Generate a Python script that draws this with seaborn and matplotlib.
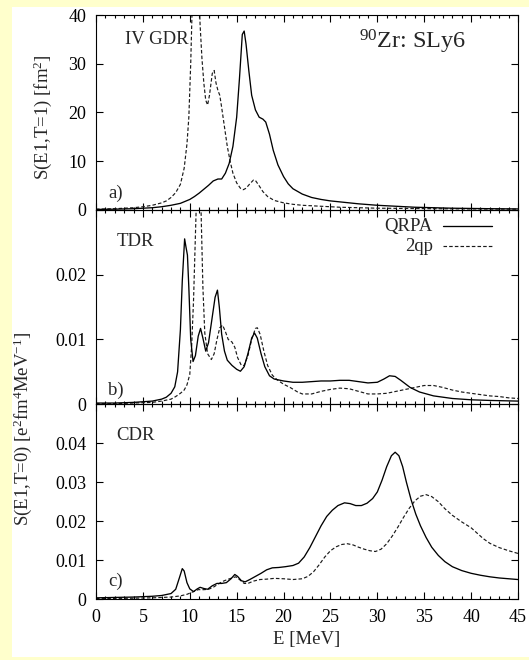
import numpy as np
import pandas as pd
import matplotlib
matplotlib.use("Agg")
import matplotlib.pyplot as plt
from matplotlib.patches import Rectangle
from matplotlib.lines import Line2D
import seaborn as sns

# ---------------- data ----------------
# Panel a) IV GDR, S(E1,T=1) [fm^2]
E_a_qrpa = [0, 2, 4, 6, 7, 8, 9, 10, 10.5, 11, 11.5, 12, 12.5, 13, 13.4, 13.8, 14.2, 14.6, 15.0, 15.3,
            15.6, 15.8, 16.0, 16.3, 16.6, 17.0, 17.4, 17.8, 18.1, 18.5, 18.9, 19.4, 20, 20.5, 21, 22, 23,
            24, 25, 26, 27, 28, 29, 30, 32, 34, 36, 38, 40, 42, 45]
S_a_qrpa = [0.05, 0.1, 0.2, 0.4, 0.6, 0.9, 1.3, 2.1, 2.7, 3.4, 4.2, 5.0, 5.9, 6.3, 6.3, 7.5, 9.5, 13, 19, 27,
            36, 36.7, 34, 28.5, 23.5, 20.5, 19, 18.6, 18, 15.5, 12.2, 9.2, 6.8, 5.3, 4.3, 3.2, 2.5,
            2.1, 1.8, 1.6, 1.4, 1.2, 1.05, 0.9, 0.7, 0.5, 0.4, 0.3, 0.25, 0.2, 0.15]
E_a_2qp = [0, 2, 4, 5, 6, 7, 7.5, 8, 8.5, 9, 9.4, 9.7, 9.9, 10.1, 10.3, 10.6, 10.9, 11.1, 11.3, 11.5,
           11.7, 11.9, 12.1, 12.4, 12.6, 12.8, 13.0, 13.2, 13.4, 13.7, 14.0, 14.3, 14.6, 15.0, 15.4,
           15.7, 16.0, 16.4, 16.8, 17.0, 17.4, 17.8, 18.3, 19, 20, 21, 22, 24, 26, 28, 30, 33, 36, 40, 45]
S_a_2qp = [0.1, 0.2, 0.4, 0.6, 0.9, 1.4, 1.8, 2.5, 3.5, 5.2, 8.5, 13.5, 19, 30, 45, 60, 50, 38, 31, 26,
           22.5, 21.5, 23.5, 28, 28.6, 26, 24.5, 23.5, 21, 17, 13, 10, 7.5, 5.5, 4.4,
           4.1, 4.4, 5.3, 6.1, 6.0, 4.9, 3.7, 2.7, 1.9, 1.4, 1.1, 0.9, 0.7, 0.5, 0.4, 0.3, 0.25, 0.2, 0.15, 0.1]

# Panel b) TDR, S(E1,T=0)
E_b_qrpa = [0, 2, 4, 5, 6, 7, 7.5, 8, 8.4, 8.7, 9.0, 9.2, 9.45, 9.6, 9.75, 9.9, 10.1, 10.35, 10.6, 10.9,
            11.15, 11.4, 11.7, 12.0, 12.4, 12.7, 12.95, 13.15, 13.4, 13.7, 14.0, 14.5, 15.0, 15.4, 15.8,
            16.2, 16.6, 16.9, 17.2, 17.6, 18.0, 18.5, 19, 20, 21, 22, 23, 24, 25, 26, 27, 28, 29, 30,
            30.7, 31.3, 31.9, 32.5, 33.5, 34.5, 36, 38, 40, 42, 45]
S_b_qrpa = [0.0002, 0.0002, 0.0003, 0.0004, 0.0005, 0.0008, 0.0011, 0.0017, 0.0027, 0.005, 0.0115, 0.019,
            0.0255, 0.0242, 0.023, 0.018, 0.010, 0.0066, 0.0075, 0.0105,
            0.0117, 0.0102, 0.0082, 0.0095, 0.0135, 0.0165, 0.0176, 0.015, 0.0108, 0.0082, 0.0068, 0.006,
            0.0054, 0.0051, 0.0058, 0.0078, 0.0102, 0.0110, 0.0102, 0.0078, 0.0058, 0.0044, 0.0039, 0.0036,
            0.0034, 0.0034, 0.0035, 0.0036, 0.0036, 0.0037, 0.0037, 0.0035, 0.0033, 0.0034,
            0.0039, 0.0044, 0.0043, 0.0037, 0.0026, 0.0019, 0.0013, 0.0009, 0.0007, 0.0006, 0.0005]
E_b_2qp = [0, 2, 4, 6, 7, 8, 8.5, 9.0, 9.4, 9.7, 10.0, 10.2, 10.4, 10.6, 10.8, 11.0, 11.2, 11.4, 11.6,
           11.9, 12.3, 12.6, 12.9, 13.2, 13.5, 13.8, 14.1, 14.5, 14.8, 15.1, 15.5, 15.8, 16.2, 16.6, 17.0,
           17.2, 17.5, 17.9, 18.3, 18.8, 19.3, 20, 20.7, 21.5, 22, 23, 24, 25, 26, 27, 28, 29, 30, 31, 32,
           33, 34, 35, 36, 37, 38, 39, 40, 41, 42, 43, 44, 45]
S_b_2qp = [0.0001, 0.0001, 0.0002, 0.0003, 0.0005, 0.0008, 0.0012, 0.0017, 0.0022, 0.003, 0.0046, 0.009,
           0.016, 0.026, 0.036, 0.038, 0.030, 0.018, 0.011,
           0.0078, 0.0069, 0.0078, 0.0100, 0.0118, 0.0122, 0.0112, 0.0100, 0.0096, 0.0088, 0.0072, 0.0060,
           0.0060, 0.0075, 0.0100, 0.0117, 0.0118, 0.0108, 0.0082, 0.0060, 0.0045, 0.0038, 0.0031, 0.0026,
           0.0019, 0.0016, 0.0016, 0.0020, 0.0023, 0.0025, 0.0024, 0.0020, 0.0016, 0.0016, 0.0017, 0.0020,
           0.0023, 0.0026, 0.0029, 0.0029, 0.0026, 0.0022, 0.0019, 0.0017, 0.0015, 0.0013, 0.0012, 0.0010, 0.0009]

# Panel c) CDR, S(E1,T=0)
E_c_qrpa = [0, 2, 4, 6, 7, 8, 8.5, 8.9, 9.2, 9.4, 9.7, 10.0, 10.4, 10.8, 11.1, 11.5, 11.9, 12.4, 12.9,
            13.4, 13.9, 14.4, 14.8, 15.1, 15.5, 15.9, 16.4, 17, 17.6, 18.2, 18.8, 19.5, 20.2, 21, 21.6,
            22.2, 22.8, 23.4, 24, 24.6, 25.2, 25.8, 26.5, 27.1, 27.7, 28.3, 28.9, 29.5, 30.0, 30.5, 31.0,
            31.5, 31.9, 32.3, 32.7, 33.1, 33.6, 34.1, 34.6, 35.2, 35.8, 36.5, 37.2, 38, 39, 40, 41, 42,
            43, 44, 45]
S_c_qrpa = [0.0003, 0.0004, 0.0005, 0.0007, 0.0009, 0.0014, 0.0025, 0.0055, 0.0078, 0.0072, 0.0042,
            0.0026, 0.0019, 0.0026, 0.0030, 0.0027, 0.0025, 0.0034, 0.0040,
            0.0040, 0.0042, 0.0052, 0.0063, 0.0058, 0.0047, 0.0044, 0.0050, 0.0058, 0.0066, 0.0075, 0.0080,
            0.0081, 0.0083, 0.0086, 0.0092, 0.0108, 0.0132, 0.0160, 0.0188, 0.0212, 0.0228, 0.0240, 0.0247,
            0.0245, 0.0240, 0.0240, 0.0246, 0.0258, 0.0275, 0.0305, 0.0340,
            0.0368, 0.0377, 0.0368, 0.0340, 0.0300, 0.0255, 0.0218, 0.0188, 0.0158, 0.0133, 0.0112, 0.0096,
            0.0083, 0.0073, 0.0066, 0.0061, 0.0057, 0.0054, 0.0052, 0.0050]
E_c_2qp = [0, 4, 6, 8, 9, 9.7, 10.3, 10.9, 11.5, 12, 12.5, 13, 13.5, 14, 14.5, 14.9, 15.3, 15.8, 16.2,
           16.8, 17.5, 18.2, 19, 20, 21, 22, 22.6, 23.2, 23.8, 24.4, 25, 25.6, 26.2, 26.8, 27.4, 28, 28.6,
           29.2, 29.8, 30.4, 31, 31.6, 32.2, 32.8, 33.4, 34, 34.6, 35.2, 35.8, 36.5, 37.2, 38, 39, 40,
           40.6, 41.3, 42, 43, 44, 45]
S_c_2qp = [0.0001, 0.0002, 0.0003, 0.0005, 0.0008, 0.0012, 0.0018, 0.0024, 0.0024, 0.0025, 0.0030,
           0.0038, 0.0045, 0.0050, 0.0054, 0.0057, 0.0050, 0.0040, 0.0040,
           0.0046, 0.0050, 0.0051, 0.0053, 0.0052, 0.0050, 0.0052, 0.0058, 0.0070, 0.0088, 0.0108, 0.0124,
           0.0134, 0.0140, 0.0142, 0.0139, 0.0133, 0.0128, 0.0124, 0.0122, 0.0128, 0.0142, 0.0162, 0.0185,
           0.0210, 0.0233, 0.0252, 0.0264, 0.0268, 0.0263, 0.0250, 0.0232, 0.0215, 0.0198, 0.0183,
           0.0170, 0.0155, 0.0143, 0.0132, 0.0124, 0.0117]

series_names = ["QRPA", "2qp"]
x_ticks = [0, 5, 10, 15, 20, 25, 30, 35, 40, 45]
x_ticklabels = ["0", "5", "10", "15", "20", "25", "30", "35", "40", "45"]
a_yticks = [0, 10, 20, 30, 40]
a_yticklabels = ["0", "10", "20", "30", "40"]
b_yticks = [0, 0.01, 0.02]
b_yticklabels = ["0", "0.01", "0.02"]
c_yticks = [0, 0.01, 0.02, 0.03, 0.04]
c_yticklabels = ["0", "0.01", "0.02", "0.03", "0.04"]
ylims = [(0, 40), (0, 0.03), (0, 0.05)]

# ---------------- style ----------------
sns.set_theme(style="ticks")
plt.rcParams["font.family"] = ["Liberation Serif", "DejaVu Serif"]
plt.rcParams["mathtext.fontset"] = "custom"
plt.rcParams["mathtext.rm"] = "Liberation Serif"
plt.rcParams["mathtext.it"] = "Liberation Serif:italic"
plt.rcParams["axes.linewidth"] = 0.8
plt.rcParams["axes.edgecolor"] = "black"

W, H = 529, 660
fig = plt.figure(figsize=(W / 100, H / 100), dpi=100, facecolor="#ffffcc")
fig.patches.append(Rectangle((12 / W, 3 / H), (W - 12) / W, 650 / H, transform=fig.transFigure,
                             facecolor="white", edgecolor="none", zorder=-10))

left, right = 96 / W, 518 / W
top, bottom = 1 - 15 / H, 1 - 599 / H
gs = fig.add_gridspec(3, 1, left=left, right=right, top=top, bottom=bottom, hspace=0)
axes = [fig.add_subplot(gs[i]) for i in range(3)]

solid_kw = dict(color="black", linewidth=0.95, linestyle="-")
dash_kw = dict(color="#1a1a1a", linewidth=0.85, linestyle=(0, (3.0, 1.8)))

panels = [
    (E_a_qrpa, S_a_qrpa, E_a_2qp, S_a_2qp),
    (E_b_qrpa, S_b_qrpa, E_b_2qp, S_b_2qp),
    (E_c_qrpa, S_c_qrpa, E_c_2qp, S_c_2qp),
]
for ax, (e1, s1, e2, s2), yl in zip(axes, panels, ylims):
    df1 = pd.DataFrame({"E": e1, "S": s1})
    df2 = pd.DataFrame({"E": e2, "S": s2})
    sns.lineplot(data=df2, x="E", y="S", ax=ax, estimator=None, sort=False, **dash_kw)
    sns.lineplot(data=df1, x="E", y="S", ax=ax, estimator=None, sort=False, **solid_kw)
    ax.set_xlim(0, 45)
    ax.set_ylim(*yl)
    ax.set_xlabel("")
    ax.set_ylabel("")
    ax.set_xticks(x_ticks)
    ax.set_xticks(np.arange(0, 46, 1), minor=True)
    ax.tick_params(which="both", direction="in", top=True, right=True, colors="black",
                   labelsize=13, width=0.8)
    ax.tick_params(which="major", length=5, pad=7)
    ax.tick_params(which="minor", length=2.5)
    ax.tick_params(axis="y", which="minor", left=False, right=False)
    ax.set_facecolor("none")

axes[0].set_yticks(a_yticks)
axes[0].set_yticklabels(a_yticklabels)
axes[1].set_yticks(b_yticks)
axes[1].set_yticklabels(b_yticklabels)
axes[2].set_yticks(c_yticks)
axes[2].set_yticklabels(c_yticklabels)
for ax in axes[:2]:
    ax.tick_params(labelbottom=False)
axes[2].set_xticklabels(x_ticklabels)
axes[2].set_xlabel("E [MeV]", fontsize=13.5, labelpad=4)

# panel annotations
axes[0].text(3.1, 35.0, "IV GDR", fontsize=13.5, va="center")
axes[0].text(28.0, 34.5, "$^{90}$Zr: SLy6", fontsize=17.5, va="center")
axes[0].text(1.3, 3.4, "a)", fontsize=13.5, va="center")
axes[1].text(2.2, 0.0251, "TDR", fontsize=13.5, va="center")
axes[1].text(1.3, 0.0021, "b)", fontsize=13.5, va="center")
axes[2].text(2.2, 0.0420, "CDR", fontsize=13.5, va="center")
axes[2].text(1.3, 0.0046, "c)", fontsize=13.5, va="center")

# legend (gnuplot style: right-aligned label, sample to the right)
axb = axes[1]
for name, yy, kw in [(series_names[0], 0.915, solid_kw), (series_names[1], 0.812, dash_kw)]:
    axb.text(0.798, yy, name, transform=axb.transAxes, ha="right", va="center", fontsize=13.5)
    axb.add_line(Line2D([0.822, 0.939], [yy, yy], transform=axb.transAxes, **kw))

# y labels
fig.text(43 / W, 1 - 117 / H, "S(E1,T=1) [fm$^{2}$]", rotation=90, ha="center", va="center", fontsize=13.5)
fig.text(23 / W, 1 - 429 / H, "S(E1,T=0) [e$^{2}$fm$^{4}$MeV$^{-1}$]", rotation=90, ha="center",
         va="center", fontsize=13.5)

fig.savefig("out.png", dpi=100, facecolor=fig.get_facecolor())
